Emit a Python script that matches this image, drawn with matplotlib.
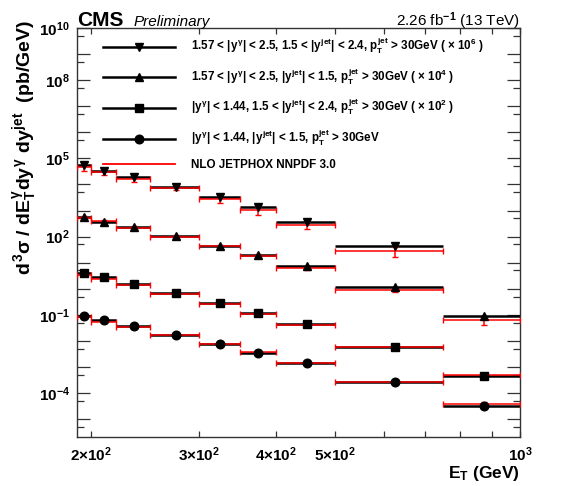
"""Isolated photon + jet triple-differential cross section vs photon E_T, data vs NLO JETPHOX."""
import numpy as np
import matplotlib
matplotlib.use("Agg")
import matplotlib.pyplot as plt
from matplotlib.lines import Line2D
from matplotlib.ticker import FixedLocator, FuncFormatter, NullFormatter

plt.rcParams["font.family"] = ["Liberation Sans", "DejaVu Sans"]
plt.rcParams["font.weight"] = "bold"
plt.rcParams["axes.labelweight"] = "bold"
plt.rcParams["mathtext.fontset"] = "custom"
plt.rcParams["mathtext.rm"] = "Liberation Sans:bold"
plt.rcParams["mathtext.it"] = "Liberation Sans:bold"
plt.rcParams["mathtext.bf"] = "Liberation Sans:bold"
plt.rcParams["mathtext.sf"] = "Liberation Sans"

# E_T bin edges (GeV) and centres
EDGES = [190, 200, 220, 250, 300, 350, 400, 500, 750, 1000]
CENTERS = [195, 210, 235, 275, 325, 375, 450, 625, 875]

# pb/GeV, before the scale factor
DATA_FF = [5.5e-2, 3.35e-2, 1.97e-2, 8.2e-3, 3.4e-3, 1.33e-3, 3.5e-4, 4.2e-5]
THEO_FF = [4.5e-2, 3.0e-2, 1.65e-2, 7.5e-3, 2.75e-3, 1.02e-3, 2.7e-4, 2.8e-5]
ERR_FF = [0.30, 0.25, 0.25, 0.20, 0.30, 0.35, 0.30, 0.40]

DATA_FC = [5.8e-2, 3.7e-2, 2.27e-2, 1.03e-2, 4.5e-3, 1.97e-3, 7.7e-4, 1.14e-4, 9.1e-6]
THEO_FC = [5.3e-2, 3.85e-2, 2.19e-2, 9.9e-3, 4.25e-3, 1.85e-3, 6.15e-4, 9.0e-5, 6.2e-6]
ERR_FC = [0.15, 0.12, 0.12, 0.12, 0.12, 0.15, 0.15, 0.20, 0.35]

DATA_CF = [4.1e-2, 2.76e-2, 1.53e-2, 6.9e-3, 2.8e-3, 1.15e-3, 4.3e-4, 6.0e-5, 4.3e-6]
THEO_CF = [3.3e-2, 2.44e-2, 1.4e-2, 6.3e-3, 2.6e-3, 1.08e-3, 4.1e-4, 6.0e-5, 4.8e-6]
ERR_CF = [0.10, 0.10, 0.10, 0.10, 0.10, 0.10, 0.10, 0.12, 0.15]

DATA_CC = [9.3e-2, 6.4e-2, 3.76e-2, 1.7e-2, 7.5e-3, 3.38e-3, 1.4e-3, 2.76e-4, 3.24e-5]
THEO_CC = [8.1e-2, 5.5e-2, 3.44e-2, 1.7e-2, 7.5e-3, 3.9e-3, 1.4e-3, 2.76e-4, 3.9e-5]
ERR_CC = [0.08, 0.08, 0.08, 0.08, 0.08, 0.08, 0.08, 0.10, 0.12]

SCALES = [1e6, 1e4, 1e2, 1]
MARKERS = ["v", "^", "s", "o"]
LABELS = [
    r"1.57 < |$y^{\gamma}$| < 2.5, 1.5 < |$y^{jet}$| < 2.4, $p_{T}^{jet}$ > 30GeV ( $\times$ $10^{6}$ )",
    r"1.57 < |$y^{\gamma}$| < 2.5, |$y^{jet}$| < 1.5, $p_{T}^{jet}$ > 30GeV ( $\times$ $10^{4}$ )",
    r"|$y^{\gamma}$| < 1.44, 1.5 < |$y^{jet}$| < 2.4, $p_{T}^{jet}$ > 30GeV ( $\times$ $10^{2}$ )",
    r"|$y^{\gamma}$| < 1.44, |$y^{jet}$| < 1.5, $p_{T}^{jet}$ > 30GeV",
]
THEO_LABEL = "NLO JETPHOX NNPDF 3.0"
YLABELS = [-4, -1, 2, 5, 8, 10]


def draw_series(ax, data, theo, err, scale, marker):
    n = len(data)
    c = np.array(CENTERS[:n], float)
    lo = np.array(EDGES[:n], float); hi = np.array(EDGES[1:n + 1], float)
    xerr = [c - lo, hi - c]
    d = np.array(data) * scale
    t = np.array(theo) * scale
    e = np.array(err) * t
    ax.errorbar(c, d, xerr=xerr, fmt="none", ecolor="black", elinewidth=1.8, capsize=0, zorder=2)
    ax.errorbar(c, t, xerr=xerr, yerr=e, fmt="none", ecolor="red", elinewidth=1.1,
                capsize=2, capthick=1.0, zorder=3)
    ax.plot(c, d, ls="none", marker=marker, ms=6.2, color="black", zorder=4)


def main():
    fig = plt.figure(figsize=(5.64, 4.86), dpi=100)
    ax = fig.add_axes([0.1365, 0.1002, 0.7855, 0.8422])
    sets = [(DATA_FF, THEO_FF, ERR_FF), (DATA_FC, THEO_FC, ERR_FC),
            (DATA_CF, THEO_CF, ERR_CF), (DATA_CC, THEO_CC, ERR_CC)]
    for (d, t, e), s, m in zip(sets, SCALES, MARKERS):
        draw_series(ax, d, t, e, s, m)

    ax.set_xscale("log"); ax.set_yscale("log")
    ax.set_xlim(190, 1000); ax.set_ylim(2e-6, 1e10)

    # y: long ticks every decade, short at 5x, labels on a few
    ax.yaxis.set_major_locator(FixedLocator([10.0 ** k for k in range(-5, 11)]))
    ax.yaxis.set_minor_locator(FixedLocator([5 * 10.0 ** k for k in range(-6, 10)]))
    ax.yaxis.set_major_formatter(FuncFormatter(
        lambda v, p: f"$10^{{{int(round(np.log10(v)))}}}$" if int(round(np.log10(v))) in YLABELS else ""))
    ax.yaxis.set_minor_formatter(NullFormatter())
    # x
    ax.xaxis.set_major_locator(FixedLocator([200, 300, 400, 500, 1000]))
    ax.xaxis.set_minor_locator(FixedLocator([600, 700, 800, 900]))
    ax.xaxis.set_major_formatter(FuncFormatter(
        lambda v, p: r"$10^{3}$" if v == 1000 else rf"${int(v // 100)}{{\times}}10^{{2}}$"))
    ax.xaxis.set_minor_formatter(NullFormatter())
    ax.tick_params(axis="both", which="both", direction="in", top=True, right=True,
                   width=0.9, color="#333333")
    ax.tick_params(axis="y", which="major", length=9.4, labelsize=11, pad=5)
    ax.tick_params(axis="y", which="minor", length=5)
    ax.tick_params(axis="x", which="both", length=4.3, labelsize=11, pad=6)
    for sp in ax.spines.values():
        sp.set_linewidth(1.0); sp.set_color("#333333")

    ax.set_xlabel(r"$E_{T}$ (GeV)", fontsize=12.5, fontweight="bold", loc="right", labelpad=0)
    ax.set_ylabel(r"$d^{3}\sigma$ / $dE_{T}^{\gamma}dy^{\gamma}$ $dy^{jet}$  (pb/GeV)",
                  fontsize=14, fontweight="bold", loc="top")
    ax.yaxis.set_label_coords(-0.085, 1.02)

    handles = [Line2D([], [], color="black", lw=1.8, marker=m, ms=6.2) for m in MARKERS]
    handles.append(Line2D([], [], color="red", lw=1.3))
    ax.legend(handles, LABELS + [THEO_LABEL], loc="upper left",
              bbox_to_anchor=(103 / 564, 1 - 36 / 486), bbox_transform=fig.transFigure,
              frameon=False, fontsize=8.4, numpoints=1, handlelength=6.2,
              handletextpad=1.3, labelspacing=0.9, borderpad=0, borderaxespad=0)

    ax.text(0.0, 1.006, "CMS", transform=ax.transAxes, fontsize=15, fontweight="bold",
            ha="left", va="baseline")
    ax.text(0.128, 1.006, "Preliminary", transform=ax.transAxes, fontsize=11,
            fontweight="normal", style="italic", ha="left", va="baseline")
    ax.text(1.0, 1.006, r"2.26 fb$\mathsf{^{-1}}$ (13 TeV)", transform=ax.transAxes,
            fontsize=11, fontweight="normal", ha="right", va="baseline")

    fig.savefig("out.png", dpi=100)
    plt.close(fig)


if __name__ == "__main__":
    main()
